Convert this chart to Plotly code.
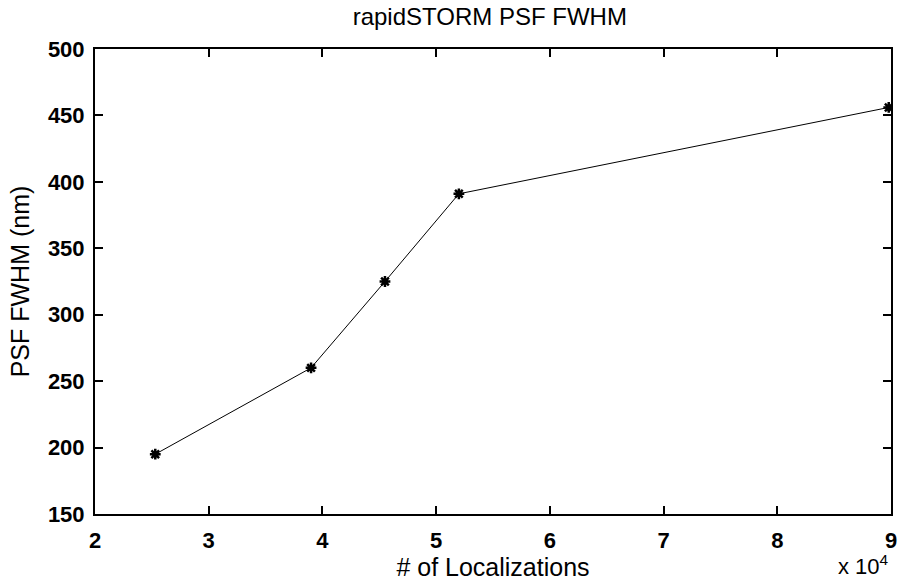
import plotly.graph_objects as go

# Number of localizations (x 10^4) and measured PSF FWHM in nm
localizations = [2.53, 3.9, 4.55, 5.2, 8.98]
fwhm_nm = [195, 260, 325, 391, 456]

x_ticks = [2, 3, 4, 5, 6, 7, 8, 9]
y_ticks = [150, 200, 250, 300, 350, 400, 450, 500]

font_family = "Liberation Sans, Arial, sans-serif"

fig = go.Figure()
fig.add_trace(go.Scatter(
    x=localizations,
    y=fwhm_nm,
    mode="lines+markers",
    line=dict(color="black", width=1),
    marker=dict(symbol="asterisk", size=9, color="black",
                line=dict(color="black", width=2.5)),
    showlegend=False,
))

axis_common = dict(
    showline=True, linecolor="black", linewidth=2,
    mirror="ticks", ticks="inside", ticklen=8, tickwidth=1.5,
    tickcolor="black", showgrid=False, zeroline=False, automargin=False,
    tickfont=dict(family=font_family, size=22, color="black", weight="bold"),
)

fig.update_layout(
    width=902, height=585,
    margin=dict(l=95, r=11, t=49, b=71),
    paper_bgcolor="white", plot_bgcolor="white",
    title=dict(text="rapidSTORM PSF FWHM", x=0.543, xanchor="center",
               y=0.972, yanchor="middle",
               font=dict(family=font_family, size=24, color="black")),
    xaxis=dict(range=[2, 9], tickvals=x_ticks, ticktext=[str(v) for v in x_ticks],
               ticklabelstandoff=6,
               title=dict(text="# of Localizations", standoff=4,
                          font=dict(family=font_family, size=25, color="black")),
               **axis_common),
    yaxis=dict(range=[150, 500], tickvals=y_ticks, ticktext=[str(v) for v in y_ticks],
               ticklabelstandoff=4,
               title=dict(text="PSF FWHM (nm)", standoff=11,
                          font=dict(family=font_family, size=25, color="black")),
               **axis_common),
    annotations=[dict(
        text="x 10<sup>4</sup>", xref="paper", yref="paper",
        x=1.0, y=-0.076, xanchor="right", yanchor="top", showarrow=False,
        font=dict(family=font_family, size=22, color="black"),
    )],
)

fig.write_html("out.html")
